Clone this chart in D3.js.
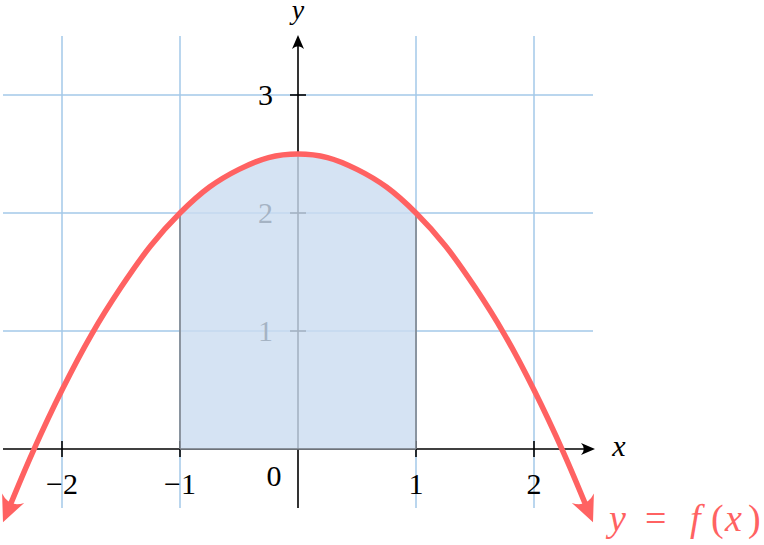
<!DOCTYPE html>
<html>
<head>
<meta charset="utf-8">
<script src="https://cdn.jsdelivr.net/npm/d3@7"></script>
<style>
  html, body { margin: 0; padding: 0; background: #fff; }
</style>
</head>
<body>
<div id="chart"></div>
<script>
// curve points
const curveX = [-2.5, -2.25, -2, -1.75, -1.5, -1.25, -1, -0.75, -0.5, -0.25, 0,
                0.25, 0.5, 0.75, 1, 1.25, 1.5, 1.75, 2, 2.25, 2.5];
const curveY = [-0.62, -0.03, 0.5, 0.97, 1.37, 1.72, 2, 2.22, 2.37, 2.47, 2.5,
                2.47, 2.37, 2.22, 2, 1.72, 1.37, 0.97, 0.5, -0.03, -0.62];
const xTicks = [-2, -1, 1, 2];
const yTicks = [1, 2, 3];
const gridX = [-2, -1, 1, 2];
const gridY = [1, 2, 3];
const areaFrom = -1, areaTo = 1;

const width = 764, height = 545;
const svg = d3.select('#chart').append('svg')
  .attr('width', width).attr('height', height)
  .attr('font-family', "'Liberation Serif', 'Times New Roman', serif");

const x = d3.scaleLinear().domain([-2.5, 2.5]).range([3, 593]);
const y = d3.scaleLinear().domain([-0.5, 3.5]).range([508, 36]);

const pts = curveX.map((v, i) => ({ x: v, y: curveY[i] }));

// grid
const gridColor = '#a3c9e8';
svg.append('g').selectAll('line').data(gridX).join('line')
  .attr('x1', d => x(d)).attr('x2', d => x(d))
  .attr('y1', y(3.5)).attr('y2', y(-0.5))
  .attr('stroke', gridColor).attr('stroke-width', 1.5);
svg.append('g').selectAll('line').data(gridY).join('line')
  .attr('x1', x(-2.5)).attr('x2', x(2.5))
  .attr('y1', d => y(d)).attr('y2', d => y(d))
  .attr('stroke', gridColor).attr('stroke-width', 1.5);

// arrow head helper (tip at 0,0 pointing +x)
function arrowHead(g, tx, ty, angle, len, half, color) {
  g.append('path')
    .attr('d', `M0,0 L${-len},${-half} Q${-len * 0.6},0 ${-len},${half} Z`)
    .attr('fill', color)
    .attr('transform', `translate(${tx},${ty}) rotate(${angle})`);
}

// axes
const axes = svg.append('g');
axes.append('line')
  .attr('x1', x(-2.5)).attr('x2', x(2.5) - 6)
  .attr('y1', y(0)).attr('y2', y(0))
  .attr('stroke', '#000').attr('stroke-width', 1.6);
arrowHead(axes, x(2.5) + 2, y(0), 0, 14, 6, '#000');
axes.append('line')
  .attr('x1', x(0)).attr('x2', x(0))
  .attr('y1', y(-0.5)).attr('y2', y(3.5) + 6)
  .attr('stroke', '#000').attr('stroke-width', 1.6);
arrowHead(axes, x(0), y(3.5) - 1, -90, 14, 6, '#000');

// ticks
axes.selectAll('.xt').data(xTicks).join('line')
  .attr('x1', d => x(d)).attr('x2', d => x(d))
  .attr('y1', y(0) - 8).attr('y2', y(0) + 8)
  .attr('stroke', '#000').attr('stroke-width', 1.6);
axes.selectAll('.yt').data(yTicks).join('line')
  .attr('x1', x(0) - 8).attr('x2', x(0) + 8)
  .attr('y1', d => y(d)).attr('y2', d => y(d))
  .attr('stroke', '#000').attr('stroke-width', 1.6);

const fmt = d => (d < 0 ? '\u2212' + Math.abs(d) : String(d));
axes.selectAll('.xl').data(xTicks).join('text')
  .attr('x', d => x(d)).attr('y', y(0) + 45)
  .attr('text-anchor', 'middle').attr('font-size', 30)
  .text(fmt);
axes.selectAll('.yl').data(yTicks).join('text')
  .attr('x', x(0) - 25).attr('y', d => y(d) + 10)
  .attr('text-anchor', 'end').attr('font-size', 30)
  .text(fmt);
axes.append('text').attr('x', x(0) - 24).attr('y', y(0) + 37)
  .attr('text-anchor', 'middle').attr('font-size', 30).text('0');
axes.append('text').attr('x', 619).attr('y', y(0) + 7)
  .attr('text-anchor', 'middle').attr('font-size', 30).attr('font-style', 'italic').text('x');
axes.append('text').attr('x', x(0)).attr('y', 19)
  .attr('text-anchor', 'middle').attr('font-size', 28).attr('font-style', 'italic').text('y');

// shaded area
const inside = pts.filter(p => p.x >= areaFrom && p.x <= areaTo);
const area = d3.area().x(d => x(d.x)).y0(y(0)).y1(d => y(d.y)).curve(d3.curveCatmullRom);
svg.append('path')
  .attr('d', area(inside))
  .attr('fill', 'rgb(203,221,240)').attr('fill-opacity', 0.81);
svg.append('path')
  .attr('d', `M${x(areaFrom)},${y(0)} L${x(areaFrom)},${y(inside[0].y)}`
    + ` M${x(areaTo)},${y(inside[inside.length - 1].y)} L${x(areaTo)},${y(0)}`
    + ` M${x(areaFrom)},${y(0)} L${x(areaTo)},${y(0)}`)
  .attr('fill', 'none').attr('stroke', '#7d848c').attr('stroke-width', 1.6);

// curve
const red = '#ff6262';
const line = d3.line().x(d => x(d.x)).y(d => y(d.y)).curve(d3.curveCatmullRom);
// shorten ends so the arrow head covers the tip
function shorten(a, b, dist) {
  const dx = x(b.x) - x(a.x), dy = y(b.y) - y(a.y);
  const l = Math.hypot(dx, dy);
  return { x: x.invert(x(b.x) - dx / l * dist), y: y.invert(y(b.y) - dy / l * dist) };
}
const n = pts.length;
const linePts = pts.slice();
linePts[0] = shorten(pts[1], pts[0], 14);
linePts[n - 1] = shorten(pts[n - 2], pts[n - 1], 14);
svg.append('path').attr('d', line(linePts))
  .attr('fill', 'none').attr('stroke', red).attr('stroke-width', 5.5);
[[pts[1], pts[0]], [pts[n - 2], pts[n - 1]]].forEach(([a, b]) => {
  const ang = Math.atan2(y(b.y) - y(a.y), x(b.x) - x(a.x)) * 180 / Math.PI;
  arrowHead(svg, x(b.x), y(b.y), ang, 26, 12, red);
});

// curve label, spaced like math typesetting
const lab = svg.append('text').attr('y', 531).attr('font-size', 38).attr('fill', red);
lab.append('tspan').attr('x', 609).attr('font-style', 'italic').text('y');
lab.append('tspan').attr('x', 645).text('=');
lab.append('tspan').attr('x', 690).attr('font-style', 'italic').text('f');
lab.append('tspan').attr('x', 711).text('(');
lab.append('tspan').attr('x', 725).attr('font-style', 'italic').text('x');
lab.append('tspan').attr('x', 748).text(')');
</script>
</body>
</html>
